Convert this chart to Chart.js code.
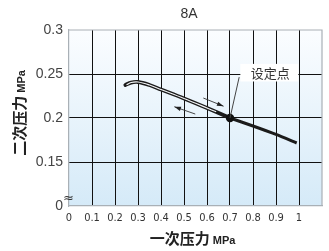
<!DOCTYPE html>
<html>
<head>
<meta charset="utf-8">
<script src="https://cdn.jsdelivr.net/npm/chart.js@4/dist/chart.umd.min.js"></script>
<style>
  html,body{margin:0;padding:0;background:#fff;}
  #wrap{width:329px;height:251px;position:relative;}
</style>
</head>
<body>
<div id="wrap"><canvas id="c" width="329" height="251"></canvas></div>
<script>
// ── data ──
// rising / falling branch (double line) up to the set point
const inletA   = [0.245, 0.27, 0.30, 0.35, 0.40, 0.50, 0.60, 0.70];
const outletA  = [0.2375, 0.2403, 0.2409, 0.2375, 0.2324, 0.2222, 0.2114, 0.2000];
// single line beyond the set point
const inletB   = [0.70, 0.80, 0.90, 0.99];
const outletB  = [0.2000, 0.1909, 0.1813, 0.1716];
// inner (hysteresis gap) runs only over the rising part
const gapP     = [0.25, 0.27, 0.30, 0.35, 0.40, 0.50, 0.60, 0.64];
const gapOut   = [0.2378, 0.2403, 0.2409, 0.2375, 0.2324, 0.2222, 0.2114, 0.2070];
const setPoint = {x:0.7, y:0.2};
const xTicks   = [0,0.1,0.2,0.3,0.4,0.5,0.6,0.7,0.8,0.9,1];
const yTicks   = [0.1,0.15,0.2,0.25,0.3];
const titleTxt = '8A';
const setLabel = '设定点';

const zip = (a,b)=>a.map((v,i)=>({x:v,y:b[i]}));

// background gradient + break mark + arrows + labels
const decor = {
  id:'decor',
  beforeDraw(ch){
    const {ctx,chartArea:a} = ch;
    const g = ctx.createLinearGradient(0,a.top,0,a.bottom);
    g.addColorStop(0,'#fbfdff'); g.addColorStop(1,'#d5eaf8');
    ctx.save(); ctx.fillStyle=g; ctx.fillRect(a.left,a.top,a.right-a.left,a.bottom-a.top); ctx.restore();
  },
  afterDatasetsDraw(ch){
    const {ctx,scales:{x,y}} = ch;
    const px=v=>x.getPixelForValue(v), py=v=>y.getPixelForValue(v);
    ctx.save();
    // label box masks the grid
    const bx0=px(0.745), bx1=px(0.997), by0=py(0.2615), by1=py(0.2415);
    ctx.fillStyle='#fff'; ctx.fillRect(bx0,by0,bx1-bx0,by1-by0);
    ctx.fillStyle='#333'; ctx.font='13px "Noto Sans CJK SC"';
    ctx.textAlign='center'; ctx.textBaseline='middle';
    ctx.fillText(setLabel,(bx0+bx1)/2+1,py(0.2511));
    // leader line
    ctx.strokeStyle='#444'; ctx.lineWidth=1;
    ctx.beginPath(); ctx.moveTo(px(setPoint.x),py(setPoint.y)); ctx.lineTo(px(0.74),py(0.2465)); ctx.stroke();
    // arrows
    const arrow=(x0,y0,x1,y1)=>{
      const X0=px(x0),Y0=py(y0),X1=px(x1),Y1=py(y1);
      const an=Math.atan2(Y1-Y0,X1-X0);
      ctx.strokeStyle='#333'; ctx.fillStyle='#222'; ctx.lineWidth=0.9;
      ctx.beginPath(); ctx.moveTo(X0,Y0); ctx.lineTo(X1,Y1); ctx.stroke();
      ctx.beginPath(); ctx.moveTo(X1,Y1);
      ctx.lineTo(X1-7*Math.cos(an-0.32),Y1-7*Math.sin(an-0.32));
      ctx.lineTo(X1-7*Math.cos(an+0.32),Y1-7*Math.sin(an+0.32));
      ctx.closePath(); ctx.fill();
    };
    arrow(0.584,0.2227,0.672,0.2134);
    arrow(0.549,0.2045,0.458,0.2128);
    // axis break
    ctx.fillStyle='#333'; ctx.font='13px "DejaVu Sans"'; ctx.textAlign='center';
    ctx.fillText('≈',px(0)-0.5,py(0.1)-7);
    ctx.restore();
  },
  afterDraw(ch){
    const {ctx} = ch;
    ctx.save();
    ctx.fillStyle='#333'; ctx.textBaseline='middle'; ctx.textAlign='center';
    ctx.font='14px "Liberation Sans"';
    ctx.fillText(titleTxt,189,14);
    // x title
    ctx.textBaseline='alphabetic'; ctx.textAlign='left'; ctx.fillStyle='#222';
    const xt1='一次压力', xt2=' MPa';
    ctx.font='bold 15px "Noto Sans CJK SC"'; const w1=ctx.measureText(xt1).width;
    ctx.font='bold 11px "Liberation Sans"'; const w2=ctx.measureText(xt2).width;
    let sx=192.5-(w1+w2)/2;
    ctx.font='bold 15px "Noto Sans CJK SC"'; ctx.fillText(xt1,sx,244);
    ctx.font='bold 11px "Liberation Sans"'; ctx.fillText(xt2,sx+w1,244);
    // y title
    ctx.translate(25,113); ctx.rotate(-Math.PI/2);
    ctx.font='bold 15px "Noto Sans CJK SC"'; const v1=ctx.measureText(xt1).width;
    ctx.font='bold 11px "Liberation Sans"'; const v2=ctx.measureText(xt2).width;
    sx=-(v1+v2)/2;
    ctx.font='bold 15px "Noto Sans CJK SC"'; ctx.fillText('二次压力',sx,0);
    ctx.font='bold 11px "Liberation Sans"'; ctx.fillText(xt2,sx+v1,0);
    ctx.restore();
  }
};

new Chart(document.getElementById('c'),{
  type:'line',
  data:{datasets:[
    {data:zip(inletA,outletA),borderColor:'#1b1b1b',borderWidth:3.8,pointRadius:0,tension:0.35,borderCapStyle:'round',order:4},
    {data:zip(inletB,outletB),borderColor:'#1b1b1b',borderWidth:3,pointRadius:0,tension:0.2,order:3},
    {data:zip(gapP,gapOut),borderColor:'#f4f6f8',borderWidth:1.1,pointRadius:0,tension:0.35,order:2},
    {type:'scatter',data:[setPoint],pointRadius:4.2,pointBackgroundColor:'#111',pointBorderWidth:0,order:1}
  ]},
  options:{
    responsive:false,animation:false,
    layout:{padding:{top:30,right:7,left:0,bottom:0}},
    plugins:{legend:{display:false},tooltip:{enabled:false}},
    scales:{
      x:{type:'linear',min:0,max:1.1,
        afterBuildTicks:s=>{s.ticks=xTicks.concat([1.1]).map(v=>({value:v}));},
        afterFit:s=>{s.height=45;},
        grid:{color:c=>(c.tick&&(c.tick.value===0||c.tick.value===1.1))?'rgba(0,0,0,0)':'#111',lineWidth:1,drawTicks:false},
        border:{display:true,color:'#a9b0b6',width:1.2},
        ticks:{padding:6,color:'#333',font:{family:'"Liberation Sans Narrow","DejaVu Sans Condensed",sans-serif',size:11},
          maxRotation:0,autoSkip:false,
          callback:v=>v>1.05?'':String(+v.toFixed(1))}
      },
      y:{type:'linear',min:0.1,max:0.3,
        afterBuildTicks:s=>{s.ticks=yTicks.map(v=>({value:v}));},
        afterFit:s=>{s.width=69;},
        grid:{color:c=>(c.tick&&(c.tick.value===0.1||c.tick.value===0.3))?'rgba(0,0,0,0)':'#111',lineWidth:1,drawTicks:false},
        border:{display:true,color:'#a9b0b6',width:1.2},
        ticks:{padding:6,color:'#444',font:{family:'"Liberation Sans",sans-serif',size:14},
          callback:v=>Math.abs(v-0.1)<1e-6?'0':String(+v.toFixed(2))}
      }
    }
  },
  plugins:[decor,{
    id:'frame',
    afterDatasetsDraw(ch){
      const {ctx,chartArea:a}=ch;
      ctx.save(); ctx.strokeStyle='#a9b0b6'; ctx.lineWidth=1.2;
      ctx.beginPath(); ctx.moveTo(a.left,a.top); ctx.lineTo(a.right,a.top); ctx.lineTo(a.right,a.bottom); ctx.stroke();
      ctx.restore();
    }
  }]
});
</script>
</body>
</html>
